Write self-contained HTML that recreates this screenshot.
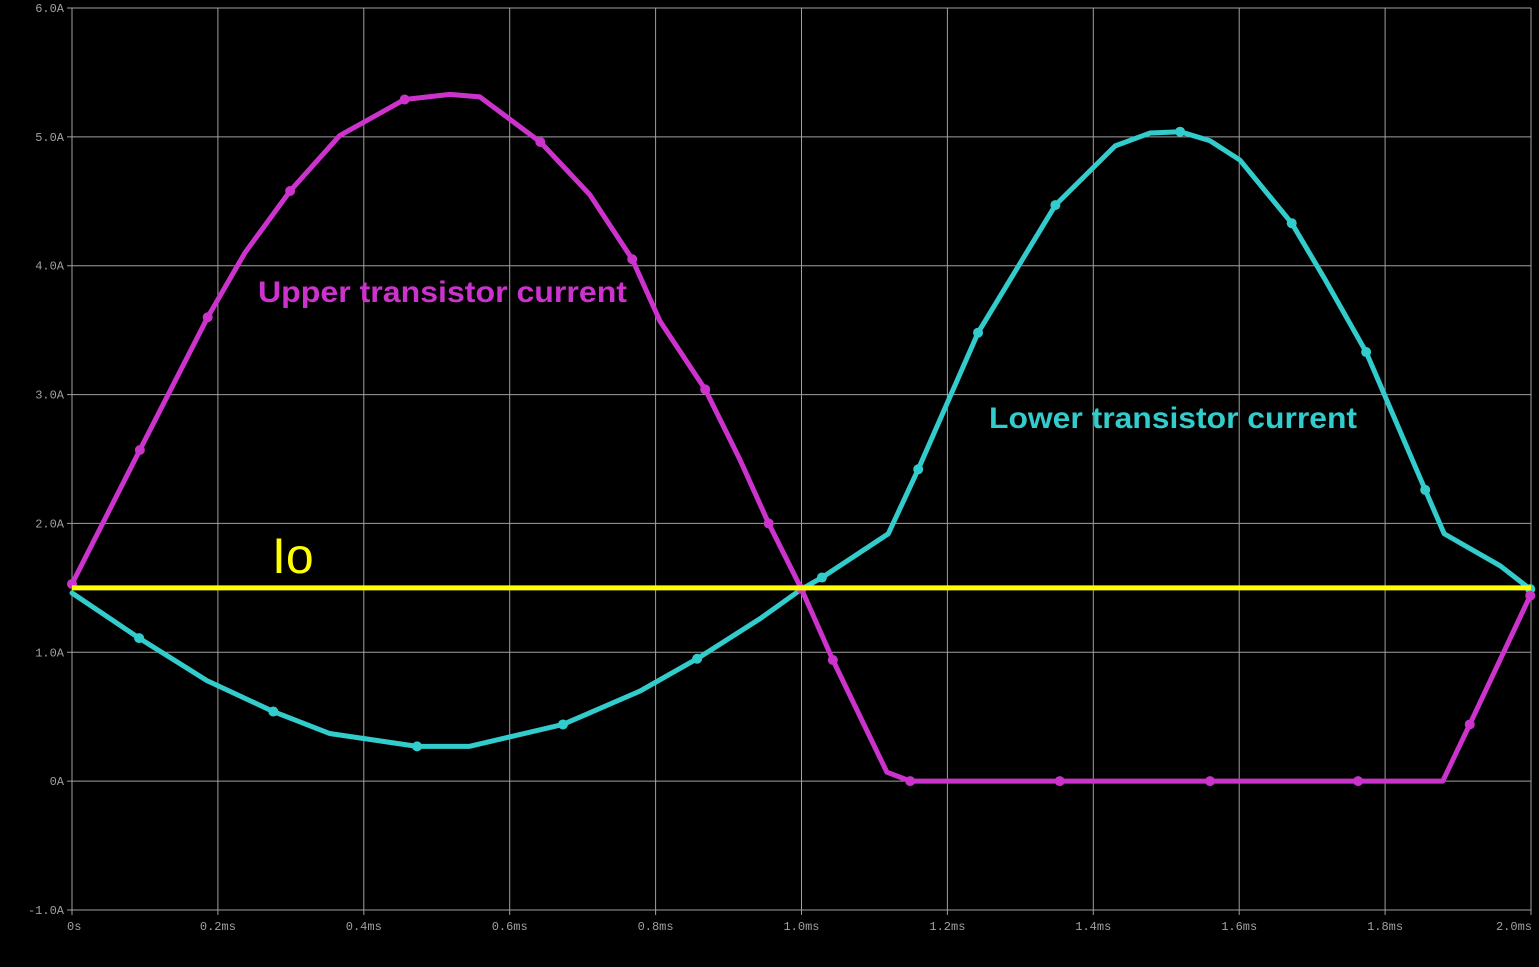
<!DOCTYPE html>
<html><head><meta charset="utf-8"><style>
html,body{margin:0;padding:0;background:#000;width:1539px;height:967px;overflow:hidden}
svg{display:block}
text{font-family:"Liberation Mono",monospace;}
</style></head><body>
<svg id="chart" width="1539" height="967" xmlns="http://www.w3.org/2000/svg">
<g id="grid"></g>
<g id="series"></g>
<text x="258" y="302" fill="#cc33cc" textLength="369" lengthAdjust="spacingAndGlyphs" style="font-family:'Liberation Sans',sans-serif;font-weight:bold;font-size:30px">Upper transistor current</text>
<text x="989" y="428" fill="#33cccc" textLength="368" lengthAdjust="spacingAndGlyphs" style="font-family:'Liberation Sans',sans-serif;font-weight:bold;font-size:30px">Lower transistor current</text>
<text x="272" y="573" fill="#ffff00" style="font-family:'Liberation Sans',sans-serif;font-size:50px">Io</text>
</svg>
<script>
const xTicks=[0,0.2,0.4,0.6,0.8,1.0,1.2,1.4,1.6,1.8,2.0];
const xTickLabels=["0s","0.2ms","0.4ms","0.6ms","0.8ms","1.0ms","1.2ms","1.4ms","1.6ms","1.8ms","2.0ms"];
const yTicks=[-1,0,1,2,3,4,5,6];
const yTickLabels=["-1.0A","0A","1.0A","2.0A","3.0A","4.0A","5.0A","6.0A"];
const upperT=[0,0.093,0.186,0.237,0.299,0.367,0.456,0.518,0.559,0.642,0.71,0.768,0.806,0.868,0.916,0.955,1.0,1.043,1.117,1.149,1.354,1.56,1.763,1.879,1.916,1.999];
const upperI=[1.53,2.57,3.6,4.10,4.58,5.01,5.29,5.33,5.31,4.96,4.55,4.05,3.57,3.04,2.49,2.0,1.49,0.94,0.07,0,0,0,0,0.0,0.44,1.44];
const upperMark=[1,1,1,0,1,0,1,0,0,1,0,1,0,1,0,1,1,1,0,1,1,1,1,0,1,1];
const lowerT=[0,0.092,0.185,0.276,0.353,0.473,0.545,0.673,0.779,0.857,0.943,1.0,1.028,1.119,1.16,1.242,1.348,1.43,1.478,1.519,1.56,1.601,1.672,1.717,1.774,1.855,1.881,1.958,1.999];
const lowerI=[1.46,1.11,0.78,0.54,0.37,0.27,0.27,0.44,0.70,0.95,1.26,1.49,1.58,1.92,2.42,3.48,4.47,4.93,5.03,5.04,4.97,4.82,4.33,3.9,3.33,2.26,1.92,1.67,1.49];
const lowerMark=[0,1,0,1,0,1,0,1,0,1,0,0,1,0,1,1,1,0,0,1,0,0,1,0,1,1,0,0,1];
const ioValue=[1.5];

const X0=72,X1=1531,Y0=910,Y1=8;
const xs=t=>X0+(t-0)/(2.0-0)*(X1-X0);
const ys=v=>Y0-(v-(-1))/(6-(-1))*(Y0-Y1);
const NS="http://www.w3.org/2000/svg";
function mk(tag,attrs,parent){const e=document.createElementNS(NS,tag);for(const k in attrs)e.setAttribute(k,attrs[k]);parent.appendChild(e);return e;}
const grid=document.getElementById('grid');
const series=document.getElementById('series');
xTicks.forEach((t,i)=>{
  const l=mk('line',{x1:xs(t),x2:xs(t),y1:Y1,y2:Y0+5,stroke:'#a0a0a0','stroke-width':1},grid);
  
  
  const anchor=i==0?'start':(i==xTicks.length-1?'end':'middle');
  const tx=mk('text',{x:xs(t)+(i==0?-5:(i==xTicks.length-1?1:0)),y:Y0+20,fill:'#a0a0a0','font-size':'12px','text-anchor':anchor},grid);
  tx.textContent=xTickLabels[i];
  
  
});
yTicks.forEach((v,i)=>{
  const l=mk('line',{x1:X0-5,x2:X1,y1:ys(v),y2:ys(v),stroke:'#a0a0a0','stroke-width':1},grid);
  
  
  const tx=mk('text',{x:X0-8,y:ys(v)+4,fill:'#a0a0a0','font-size':'12px','text-anchor':'end'},grid);
  tx.textContent=yTickLabels[i];
  
  
});
function drawSeries(T,I,M,color,name){
  const pts=T.map((t,i)=>xs(t)+','+ys(I[i])).join(' ');
  const p=mk('polyline',{points:pts,fill:'none',stroke:color,'stroke-width':5,'stroke-linejoin':'round','stroke-linecap':'round'},series);
  
  
  T.forEach((t,i)=>{if(M[i]){
    const c=mk('circle',{cx:xs(t),cy:ys(I[i]),r:5,fill:color},series);
    
    
  }});
}
drawSeries(lowerT,lowerI,lowerMark,'#33cccc','lower-current');
drawSeries(upperT,upperI,upperMark,'#cc33cc','upper-current');
const io=mk('line',{x1:X0,x2:X1,y1:ys(ioValue[0]),y2:ys(ioValue[0]),stroke:'#ffff00','stroke-width':5},series);


</script>
</body></html>
